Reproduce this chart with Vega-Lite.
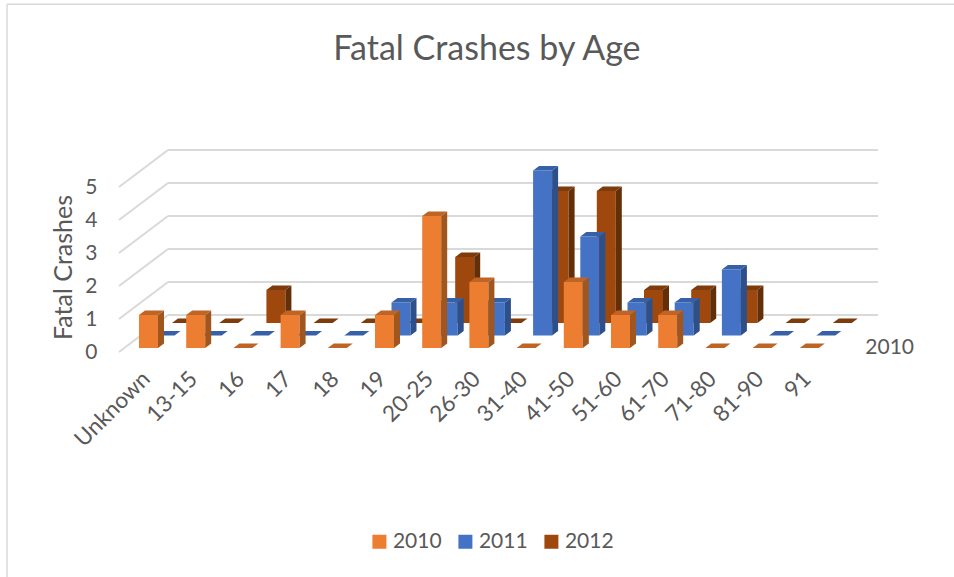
{
"$schema":"https://vega.github.io/schema/vega-lite/v6.json",
"autosize":"none","width":708,"height":165,
"padding":{"left":124.9,"top":183,"right":121.1,"bottom":229},
"background":"white",
"config":{"view":{"stroke":null},"font":"Lato",
"axisX":{"domain":false,"ticks":false,"grid":false,"labelAngle":-45,"labelAlign":"right","labelBaseline":"middle","labelPadding":27,"labelOffset":-2,"labelFont":"Lato","labelFontSize":22.5,"labelColor":"#595959","labelOverlap":false,"labelBound":false,"labelFlush":false},
"axisY":{"domain":false,"ticks":false,"grid":false,"tickCount":5,"labelPadding":28,"labelOffset":4.5,"labelFont":"Lato","labelFontSize":21,"labelColor":"#595959","titleFont":"Lato","titleFontSize":25,"titleFontWeight":"normal","titleColor":"#595959","titleX":-48,"titleY":84,"titleAngle":-90}},
"title":{"text":"Fatal Crashes by Age","font":"Lato","fontSize":34,"fontWeight":"normal","color":"#595959","anchor":"middle","frame":"group","dx":8,"offset":-64},
"data":{"values":[
{"age":"Unknown","series":"2010","value":1},{"age":"13-15","series":"2010","value":1},{"age":"16","series":"2010","value":0},{"age":"17","series":"2010","value":1},{"age":"18","series":"2010","value":0},{"age":"19","series":"2010","value":1},{"age":"20-25","series":"2010","value":4},{"age":"26-30","series":"2010","value":2},{"age":"31-40","series":"2010","value":0},{"age":"41-50","series":"2010","value":2},{"age":"51-60","series":"2010","value":1},{"age":"61-70","series":"2010","value":1},{"age":"71-80","series":"2010","value":0},{"age":"81-90","series":"2010","value":0},{"age":"91","series":"2010","value":0},
{"age":"Unknown","series":"2011","value":0},{"age":"13-15","series":"2011","value":0},{"age":"16","series":"2011","value":0},{"age":"17","series":"2011","value":0},{"age":"18","series":"2011","value":0},{"age":"19","series":"2011","value":1},{"age":"20-25","series":"2011","value":1},{"age":"26-30","series":"2011","value":1},{"age":"31-40","series":"2011","value":5},{"age":"41-50","series":"2011","value":3},{"age":"51-60","series":"2011","value":1},{"age":"61-70","series":"2011","value":1},{"age":"71-80","series":"2011","value":2},{"age":"81-90","series":"2011","value":0},{"age":"91","series":"2011","value":0},
{"age":"Unknown","series":"2012","value":0},{"age":"13-15","series":"2012","value":0},{"age":"16","series":"2012","value":1},{"age":"17","series":"2012","value":0},{"age":"18","series":"2012","value":0},{"age":"19","series":"2012","value":0},{"age":"20-25","series":"2012","value":2},{"age":"26-30","series":"2012","value":0},{"age":"31-40","series":"2012","value":4},{"age":"41-50","series":"2012","value":4},{"age":"51-60","series":"2012","value":1},{"age":"61-70","series":"2012","value":1},{"age":"71-80","series":"2012","value":1},{"age":"81-90","series":"2012","value":0},{"age":"91","series":"2012","value":0}
]},
"encoding":{
"x":{"field":"age","type":"nominal","sort":null,"title":null,"scale":{"domain":["Unknown","13-15","16","17","18","19","20-25","26-30","31-40","41-50","51-60","61-70","71-80","81-90","91"],"padding":0}},
"y":{"field":"value","type":"quantitative","stack":null,"title":"Fatal Crashes","scale":{"domain":[0,5],"nice":false,"zero":true}}
},
"layer":[
{"data":{"values":[{"top":10.42,"bottom":-6.94}]},"mark":{"type":"rule","color":"#D9D9D9","strokeWidth":1.5,"xOffset":-141.5},"encoding":{"x":{"datum":"Unknown","title":null},"y":{"field":"top","type":"quantitative","title":"Fatal Crashes"},"y2":{"field":"bottom"}}},
{"data":{"values":[{"top":10.42}]},"mark":{"type":"rule","color":"#D9D9D9","strokeWidth":1.5,"xOffset":-141.5,"x2Offset":144.7},"encoding":{"x":{"datum":"Unknown","title":null},"x2":{"datum":"91"},"y":{"field":"top","type":"quantitative","title":"Fatal Crashes"},"y2":{"field":"top"}}},
{"data":{"values":[{"level":0},{"level":1},{"level":2},{"level":3},{"level":4},{"level":5}]},"mark":{"type":"rule","color":"#D9D9D9","strokeWidth":2,"xOffset":19.5,"x2Offset":68.7,"yOffset":-33,"y2Offset":-33},"encoding":{"x":{"datum":"Unknown","title":null},"x2":{"datum":"91"},"y":{"field":"level","type":"quantitative","title":"Fatal Crashes"},"y2":{"field":"level"}}},
{"data":{"values":[{"level":0},{"level":1},{"level":2},{"level":3},{"level":4},{"level":5}]},"mark":{"type":"rule","color":"#D9D9D9","strokeWidth":2,"xOffset":-29.5,"x2Offset":19.5,"yOffset":4,"y2Offset":-33},"encoding":{"x":{"datum":"Unknown","title":null},"x2":{"datum":"Unknown"},"y":{"field":"level","type":"quantitative","title":"Fatal Crashes"},"y2":{"field":"level"}}},
{"data":{"values":[{"label":"2010","level":0}]},"mark":{"type":"text","font":"Lato","fontSize":21,"color":"#595959","align":"left","baseline":"middle","xOffset":56,"yOffset":0},"encoding":{"x":{"datum":"91","title":null},"y":{"field":"level","type":"quantitative","title":"Fatal Crashes"},"text":{"field":"label"}}},

{"transform":[{"filter":"datum.series==='2012'"}],"mark":{"type":"bar","width":19,"xOffset":33,"yOffset":-25,"y2Offset":-25},"encoding":{"y2":{"datum":0},"color":{"field":"series","type":"nominal","scale":{"domain":["2010","2011","2012"],"range":["#ED7D31","#4472C4","#9E480E"]},"legend":{"title":null,"orient":"none","legendX":244,"legendY":348,"direction":"horizontal","symbolType":"square","symbolSize":196,"symbolStrokeWidth":0,"labelFont":"Lato","labelFontSize":21,"labelColor":"#595959","labelOffset":3,"columnPadding":13,"columns":3}}}},
{"transform":[{"filter":"datum.series==='2012'"}],"mark":{"type":"point","filled":true,"size":4,"opacity":1,"strokeWidth":0,"color":"#622F08","xOffset":33,"yOffset":-25},"encoding":{"shape":{"field":"value","type":"ordinal","legend":null,"scale":{"domain":[0,1,2,3,4,5],"range":["M9.5,0L15.5,-4.5L9.5,0Z","M9.5,0L15.5,-4.5L15.5,28.5L9.5,33Z","M9.5,0L15.5,-4.5L15.5,61.5L9.5,66Z","M9.5,0L15.5,-4.5L15.5,94.5L9.5,99Z","M9.5,0L15.5,-4.5L15.5,127.5L9.5,132Z","M9.5,0L15.5,-4.5L15.5,160.5L9.5,165Z"]}}}},
{"transform":[{"filter":"datum.series==='2012'"}],"mark":{"type":"point","filled":true,"size":4,"opacity":1,"strokeWidth":0,"color":"#7E3B0B","xOffset":33,"yOffset":-25,"shape":"M-9.5,0L9.5,0L15.5,-4.5L-3.5,-4.5Z"}},

{"transform":[{"filter":"datum.series==='2011'"}],"mark":{"type":"bar","width":19,"xOffset":16.5,"yOffset":-12.5,"y2Offset":-12.5},"encoding":{"y2":{"datum":0},"color":{"field":"series","type":"nominal"}}},
{"transform":[{"filter":"datum.series==='2011'"}],"mark":{"type":"point","filled":true,"size":4,"opacity":1,"strokeWidth":0,"color":"#2D4F8A","xOffset":16.5,"yOffset":-12.5},"encoding":{"shape":{"field":"value","type":"ordinal","legend":null}}},
{"transform":[{"filter":"datum.series==='2011'"}],"mark":{"type":"point","filled":true,"size":4,"opacity":1,"strokeWidth":0,"color":"#3660A8","xOffset":16.5,"yOffset":-12.5,"shape":"M-9.5,0L9.5,0L15.5,-4.5L-3.5,-4.5Z"}},

{"transform":[{"filter":"datum.series==='2010'"}],"mark":{"type":"bar","width":19},"encoding":{"color":{"field":"series","type":"nominal"}}},
{"transform":[{"filter":"datum.series==='2010'"}],"mark":{"type":"point","filled":true,"size":4,"opacity":1,"strokeWidth":0,"color":"#A0561F"},"encoding":{"shape":{"field":"value","type":"ordinal","legend":null}}},
{"transform":[{"filter":"datum.series==='2010'"}],"mark":{"type":"point","filled":true,"size":4,"opacity":1,"strokeWidth":0,"color":"#BE6526","shape":"M-9.5,0L9.5,0L15.5,-4.5L-3.5,-4.5Z"}}
]
}
